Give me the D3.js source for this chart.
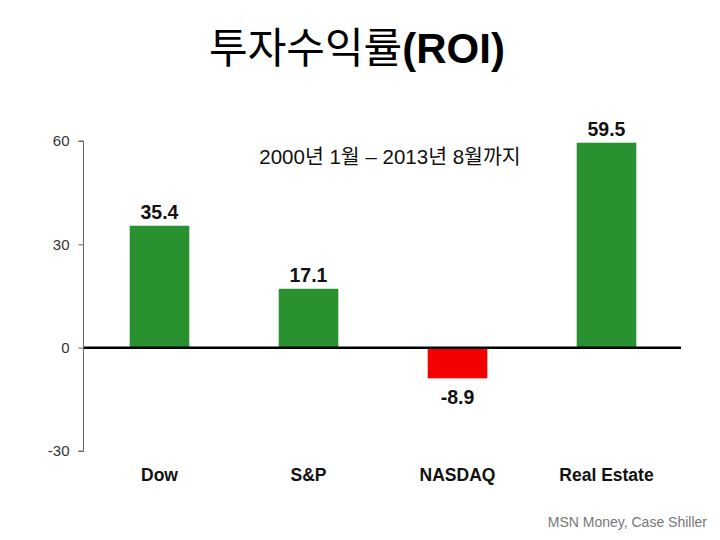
<!DOCTYPE html>
<html><head><meta charset="utf-8">
<script src="https://cdn.jsdelivr.net/npm/d3@7"></script>
<style>body{margin:0;background:#fff}</style>
</head><body>
<svg id="c" width="720" height="540"></svg>
<script>
const categories = ["Dow", "S&P", "NASDAQ", "Real Estate"];
const values = [35.4, 17.1, -8.9, 59.5];
const valueLabels = ["35.4", "17.1", "-8.9", "59.5"];
const yTicks = [-30, 0, 30, 60];

const svg = d3.select("#c");
const x = d3.scaleBand().domain(categories).range([85, 681]).paddingInner(0.6).paddingOuter(0.3);
const y = d3.scaleLinear().domain([-30, 60]).range([451, 141]);

// title
const t = svg.append("text").attr("x", 357).attr("y", 63).attr("text-anchor", "middle")
  .style("font-size", "42px").attr("fill", "#000");
t.append("tspan").style("font-family", "'Noto Sans CJK KR'").style("font-weight", "400").text("투자수익률");
t.append("tspan").style("font-family", "'Liberation Sans', Arial").style("font-weight", "700").text("(ROI)");

// subtitle
svg.append("text").attr("x", 390).attr("y", 164).attr("text-anchor", "middle")
  .style("font-family", "'Liberation Sans', 'Noto Sans CJK KR'").style("font-size", "20.5px")
  .attr("fill", "#111").text("2000년 1월 – 2013년 8월까지");

// y axis
const ax = svg.append("g").attr("transform", "translate(83.5,0)")
  .call(d3.axisLeft(y).tickValues(yTicks).tickSize(5).tickPadding(9).tickFormat(d => String(d)));
ax.select(".domain").attr("stroke", "#666").attr("d", `M-5,${y(60)}H0V${y(-30)}H-5`);
ax.selectAll(".tick line").attr("stroke", "#666");
ax.selectAll(".tick text").style("font-family", "'Liberation Sans', Arial").style("font-size", "15px").attr("fill", "#333");

// bars
svg.selectAll("rect.bar").data(values).enter().append("rect")
  .attr("x", (d, i) => x(categories[i]))
  .attr("width", x.bandwidth())
  .attr("y", d => y(Math.max(0, d)))
  .attr("height", d => Math.abs(y(d) - y(0)))
  .attr("fill", d => d >= 0 ? "#2a9130" : "#f50000");

// zero line
svg.append("line").attr("x1", 84).attr("x2", 681).attr("y1", y(0)).attr("y2", y(0))
  .attr("stroke", "#000").attr("stroke-width", 2.5);

// value labels
svg.selectAll("text.val").data(values).enter().append("text")
  .attr("x", (d, i) => x(categories[i]) + x.bandwidth() / 2)
  .attr("y", d => d >= 0 ? y(d) - 7 : y(d) + 26)
  .attr("text-anchor", "middle")
  .style("font-family", "'Liberation Sans', Arial").style("font-weight", "700").style("font-size", "19.5px")
  .attr("fill", "#111").text((d, i) => valueLabels[i]);

// category labels
svg.selectAll("text.cat").data(categories).enter().append("text")
  .attr("x", d => x(d) + x.bandwidth() / 2).attr("y", 481)
  .attr("text-anchor", "middle")
  .style("font-family", "'Liberation Sans', Arial").style("font-weight", "700").style("font-size", "17.5px")
  .attr("fill", "#111").text(d => d);

// source
svg.append("text").attr("x", 707).attr("y", 527).attr("text-anchor", "end")
  .style("font-family", "'Liberation Sans', Arial").style("font-size", "14px")
  .attr("fill", "#777").text("MSN Money, Case Shiller");
</script>
</body></html>
